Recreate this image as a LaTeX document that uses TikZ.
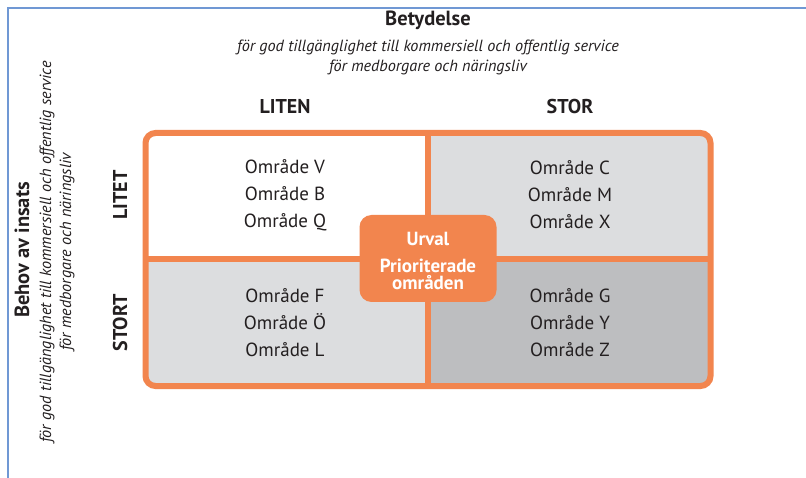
\documentclass[tikz,border=0pt]{standalone}
\usepackage{fontspec}
\setmainfont{PT Sans}
\definecolor{orng}{RGB}{242,133,78}
\definecolor{lgray}{RGB}{220,221,223}
\definecolor{dgray}{RGB}{189,190,192}
\definecolor{txt}{RGB}{35,31,32}
\definecolor{frameblue}{RGB}{112,152,212}
\begin{document}
\begin{tikzpicture}[x=1pt,y=-1pt,
  area/.style={align=center,text=txt,font=\fontsize{19}{27}\selectfont,inner sep=0pt},
  head/.style={text=txt,font=\bfseries\fontsize{20}{22}\selectfont,inner sep=0pt},
  title/.style={text=txt,font=\bfseries\fontsize{20.5}{24}\selectfont,inner sep=0pt},
  sub/.style={align=center,text=txt,font=\itshape\fontsize{16.2}{20}\selectfont,inner sep=0pt},
  edge/.style={orng,line width=6pt},
  urvalbox/.style={fill=orng,rounded corners=12pt,minimum width=137pt,minimum height=87pt,
    align=center,text=white,font=\bfseries\fontsize{19}{17.5}\selectfont}]
\useasboundingbox (0,0) rectangle (806,478);
\fill[white] (0,0) rectangle (806,478);
\draw[frameblue,line width=2pt] (8,478) -- (8,8) -- (806,8);
% quadrant fills
\begin{scope}
\clip[rounded corners=10pt] (145.5,133) rectangle (710.5,386);
\fill[lgray] (145.5,133) rectangle (710.5,386);
\fill[white] (145.5,133) rectangle (428,259);
\fill[dgray] (428,259) rectangle (710.5,386);
\end{scope}
\coordinate (ntop) at (428,133);
\coordinate (nbot) at (428,386);
\coordinate (wmid) at (145.5,259);
\coordinate (emid) at (710.5,259);
\draw[edge] (ntop) -- (nbot);
\draw[edge] (wmid) -- (emid);
\draw[edge,rounded corners=10pt] (145.5,133) rectangle (710.5,386);
\node[urvalbox] (urval) at (428,258.5) {};
\node[align=center,text=white,font=\bfseries\fontsize{19}{17.5}\selectfont,inner sep=0pt]
  (urvaltext) at (428,261) {Urval\\[9pt]Prioriterade\\områden};
% titles
\node[title] (betyd) at (428,20) {Betydelse};
\node[sub] (betsub) at (428,57) {för god tillgänglighet till kommersiell och offentlig service\\för medborgare och näringsliv};
\node[title,rotate=90] (behov) at (22,250) {Behov av insats};
\node[sub,rotate=90] (behsub) at (57,252) {för god tillgänglighet till kommersiell och offentlig service\\för medborgare och näringsliv};
\node[head] (liten) at (285,107) {LITEN};
\node[head] (stor) at (570,107) {STOR};
\node[head,rotate=90] (litet) at (120,195) {LITET};
\node[head,rotate=90] (stort) at (120,323) {STORT};
% areas
\node[area] (tl) at (285,195) {Område V\\Område B\\Område Q};
\node[area] (tr) at (570,195) {Område C\\Område M\\Område X};
\node[area] (bl) at (285,323) {Område F\\Område Ö\\Område L};
\node[area] (br) at (570,323) {Område G\\Område Y\\Område Z};
\end{tikzpicture}
\end{document}
